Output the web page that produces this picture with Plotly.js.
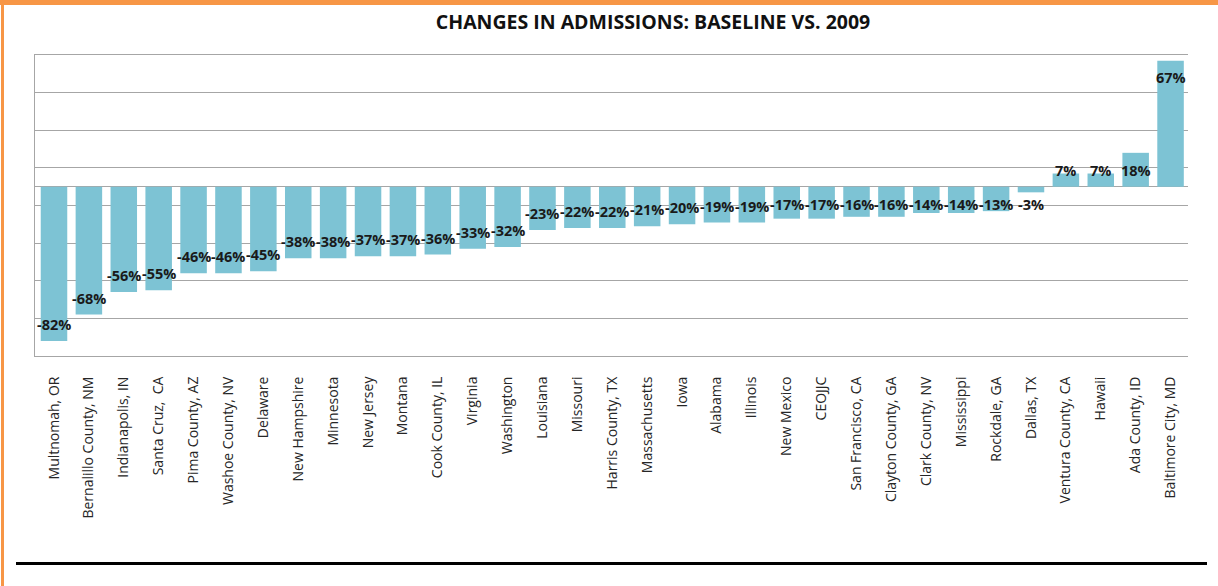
<!DOCTYPE html>
<html>
<head>
<meta charset="utf-8">
<script src="https://cdn.plot.ly/plotly-3.0.1.min.js"></script>
<style>
  html, body { margin: 0; padding: 0; background: #ffffff; }
  #wrap { position: relative; width: 1218px; height: 586px; overflow: hidden; }
  #chart { position: absolute; left: 0; top: 0; width: 1218px; height: 586px; }
  .frame-top { position: absolute; left: 0; top: 0; width: 1218px; height: 5px; background: #f79646; }
  .frame-left { position: absolute; left: 1px; top: 0; width: 3px; height: 586px; background: #f79646; }
  .rule { position: absolute; left: 16px; top: 562px; width: 1191px; height: 3px; background: #000; }
</style>
</head>
<body>
<div id="wrap">
  <div id="chart"></div>
  <div class="frame-top"></div>
  <div class="frame-left"></div>
  <div class="rule"></div>
</div>
<script>
const categories = [
  "Multnomah, OR", "Bernalillo County, NM", "Indianapolis, IN", "Santa Cruz,  CA",
  "Pima County, AZ", "Washoe County, NV", "Delaware", "New Hampshire", "Minnesota",
  "New Jersey", "Montana", "Cook County, IL", "Virginia", "Washington", "Louisiana",
  "Missouri", "Harris County, TX", "Massachusetts", "Iowa", "Alabama", "Illinois",
  "New Mexico", "CEOJJC", "San Francisco, CA", "Clayton County, GA", "Clark County, NV",
  "Mississippi", "Rockdale, GA", "Dallas, TX", "Ventura County, CA", "Hawaii",
  "Ada County, ID", "Baltimore City, MD"
];
const changePct = [
  -82, -68, -56, -55, -46, -46, -45, -38, -38, -37, -37, -36, -33, -32, -23,
  -22, -22, -21, -20, -19, -19, -17, -17, -16, -16, -14, -14, -13, -3, 7, 7, 18, 67
];

const barColor = "#7dc3d4";
const gridColor = "#a6a6a6";

const annotations = categories.map((c, i) => {
  const v = changePct[i];
  const yl = v < 0 ? Math.min(v + 8.7, -9.6) : Math.max(v - 9.2, 8.5);
  return {
    x: c, y: yl, xref: "x", yref: "y",
    text: v + "%", showarrow: false,
    font: { family: "Open Sans, sans-serif", size: 14.5, color: "#1a1a1a", weight: 700 },
    xanchor: "center", yanchor: "middle"
  };
});

const trace = {
  type: "bar",
  x: categories,
  y: changePct,
  marker: { color: barColor, line: { width: 0 } },
  hoverinfo: "x+y"
};

const layout = {
  width: 1218, height: 586,
  margin: { l: 35, r: 30, t: 55, b: 230 },
  paper_bgcolor: "#ffffff", plot_bgcolor: "#ffffff",
  showlegend: false,
  bargap: 0.24,
  title: {
    text: "CHANGES IN ADMISSIONS: BASELINE VS. 2009",
    font: { family: "Open Sans, sans-serif", size: 19.5, color: "#111111", weight: 700 },
    x: 0.536, xanchor: "center", xref: "paper",
    y: 1 - 22 / 586, yanchor: "middle", yref: "container"
  },
  xaxis: {
    type: "category",
    tickangle: -90,
    tickfont: { family: "Open Sans, sans-serif", size: 14, color: "#262626" },
    ticks: "outside", ticklen: 14, tickcolor: "rgba(0,0,0,0)",
    showline: true, mirror: true, linecolor: gridColor, linewidth: 1,
    showgrid: false, zeroline: false,
    automargin: false
  },
  yaxis: {
    range: [-90, 70],
    tick0: 10, dtick: 20,
    showticklabels: false,
    showgrid: true, gridcolor: gridColor, gridwidth: 1,
    zeroline: true, zerolinecolor: gridColor, zerolinewidth: 1,
    showline: true, linecolor: gridColor, linewidth: 1,
    ticks: "",
    automargin: false
  },
  annotations: annotations
};

Plotly.newPlot("chart", [trace], layout, { displayModeBar: false, staticPlot: true });
</script>
</body>
</html>
